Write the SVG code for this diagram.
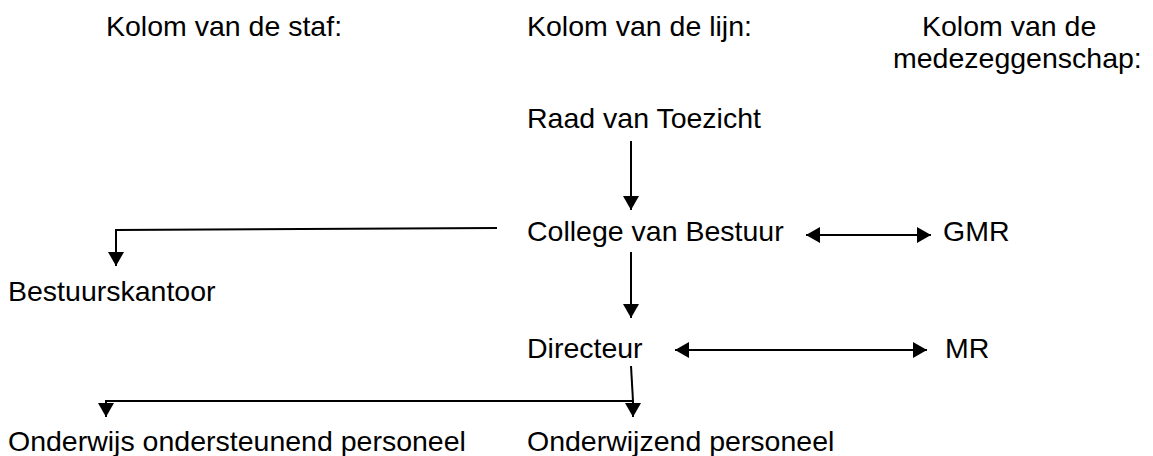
<svg xmlns="http://www.w3.org/2000/svg" width="1153" height="456" viewBox="0 0 1153 456">
<defs>
<style>
text{font-family:"Liberation Sans",Arial,sans-serif;font-size:28.5px;fill:#000}
.c{stroke:#000;stroke-width:2;fill:none}
</style>
<marker id="ah" viewBox="0 0 10 10" refX="10" refY="5" markerWidth="7" markerHeight="8" orient="auto-start-reverse" markerUnits="strokeWidth" preserveAspectRatio="none">
<path d="M0,0 L10,5 L0,10 z" fill="#000"/>
</marker>
</defs>
<rect width="1153" height="456" fill="#fff"/>
<g id="header-staf"><text x="106" y="36">Kolom van de staf:</text></g>
<g id="header-lijn"><text x="527" y="36">Kolom van de lijn:</text></g>
<g id="header-mz"><text x="922" y="36">Kolom van de</text><text x="893" y="68">medezeggenschap:</text></g>
<g id="raad"><text x="527" y="128">Raad van Toezicht</text></g>
<g id="college"><text x="527" y="241">College van Bestuur</text></g>
<g id="gmr"><text x="943" y="241">GMR</text></g>
<g id="bestuurskantoor"><text x="8" y="301">Bestuurskantoor</text></g>
<g id="directeur"><text x="527" y="358">Directeur</text></g>
<g id="mr"><text x="945" y="358">MR</text></g>
<g id="oop"><text x="8" y="451">Onderwijs ondersteunend personeel</text></g>
<g id="op"><text x="527" y="451">Onderwijzend personeel</text></g>
<g id="connectors">
<line class="c" x1="631" y1="141" x2="631" y2="210" marker-end="url(#ah)"/>
<line class="c" x1="631" y1="252" x2="631" y2="318" marker-end="url(#ah)"/>
<polyline class="c" points="497,228 116,230 116,266" marker-end="url(#ah)"/>
<line class="c" x1="806" y1="235" x2="931" y2="235" marker-start="url(#ah)" marker-end="url(#ah)"/>
<line class="c" x1="675" y1="350" x2="927" y2="350" marker-start="url(#ah)" marker-end="url(#ah)"/>
<polyline class="c" points="631,366 633,401"/>
<line class="c" x1="633" y1="401" x2="633" y2="417" marker-end="url(#ah)"/>
<polyline class="c" points="633,401 106,401 106,417" marker-end="url(#ah)"/>
</g>
</svg>
